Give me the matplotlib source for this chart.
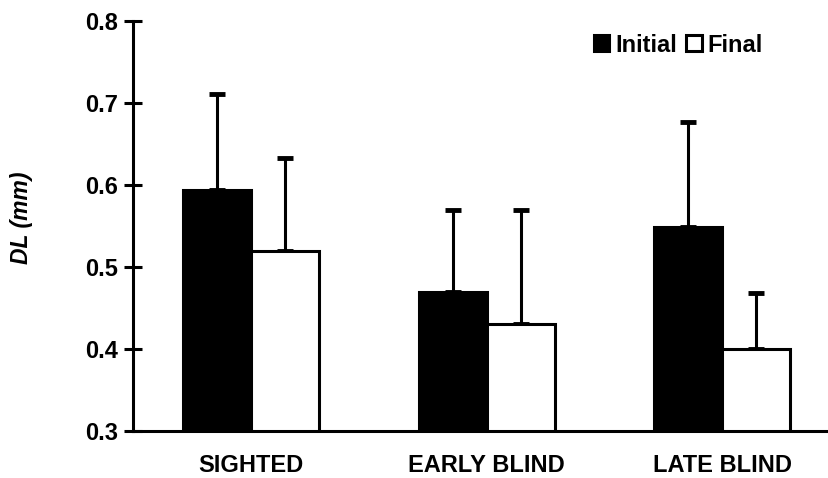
import matplotlib
matplotlib.use("Agg")
import matplotlib.pyplot as plt
import numpy as np

groups = ["SIGHTED", "EARLY BLIND", "LATE BLIND"]
initial = [0.594, 0.47, 0.549]
final = [0.52, 0.43, 0.40]
initial_err = [0.117, 0.10, 0.128]
final_err = [0.113, 0.14, 0.068]
yticks = [0.3, 0.4, 0.5, 0.6, 0.7, 0.8]

plt.rcParams['font.family'] = ['Liberation Sans', 'DejaVu Sans']

fig = plt.figure(figsize=(8.29, 4.78), dpi=100)
ax = fig.add_axes([133/829, 1 - 431/478, 1 - 133/829, (431 - 21)/478])

x = np.arange(len(groups))
w = 0.289
lw = 2.2

ax.bar(x - w/2, initial, w, bottom=0, color='black', edgecolor='black',
       linewidth=lw, zorder=3, label='Initial')
ax.bar(x + w/2, final, w, bottom=0, color='white', edgecolor='black',
       linewidth=lw, zorder=3, label='Final')

ax.errorbar(x - w/2, initial, yerr=[np.zeros(3), initial_err], fmt='none',
            ecolor='black', elinewidth=2.2, capsize=5.5, capthick=3.5, zorder=2)
ax.errorbar(x + w/2, final, yerr=[np.zeros(3), final_err], fmt='none',
            ecolor='black', elinewidth=2.2, capsize=5.5, capthick=3.5, zorder=2)

ax.set_ylim(0.3, 0.8)
ax.set_xlim(-0.502, 2.453)
ax.set_yticks(yticks)
ax.set_yticklabels([f"{t:.1f}" for t in yticks], fontsize=17, fontweight='bold')
ax.set_xticks(x)
ax.set_xticklabels(groups, fontsize=17, fontweight='bold')
ax.tick_params(axis='x', length=0, pad=16.5)
ax.tick_params(axis='y', direction='inout', length=13, width=2.2, pad=4)

for s in ['top', 'right']:
    ax.spines[s].set_visible(False)
for s in ['left', 'bottom']:
    ax.spines[s].set_linewidth(2.2)
    ax.spines[s].set_zorder(4)

fig.text(22/829, 1 - 218/478, "DL (mm)", rotation=90, fontsize=16.5,
         fontweight='bold', fontstyle='italic', ha='center', va='center')

leg = fig.legend(loc='center left', bbox_to_anchor=(594/829, 1 - 45/478),
                 ncol=2, frameon=False, prop={'size': 17, 'weight': 'bold'},
                 handlelength=0.65, handleheight=0.65, handletextpad=0.25,
                 columnspacing=0.4, borderpad=0, borderaxespad=0)

fig.savefig("out.png", dpi=100)
